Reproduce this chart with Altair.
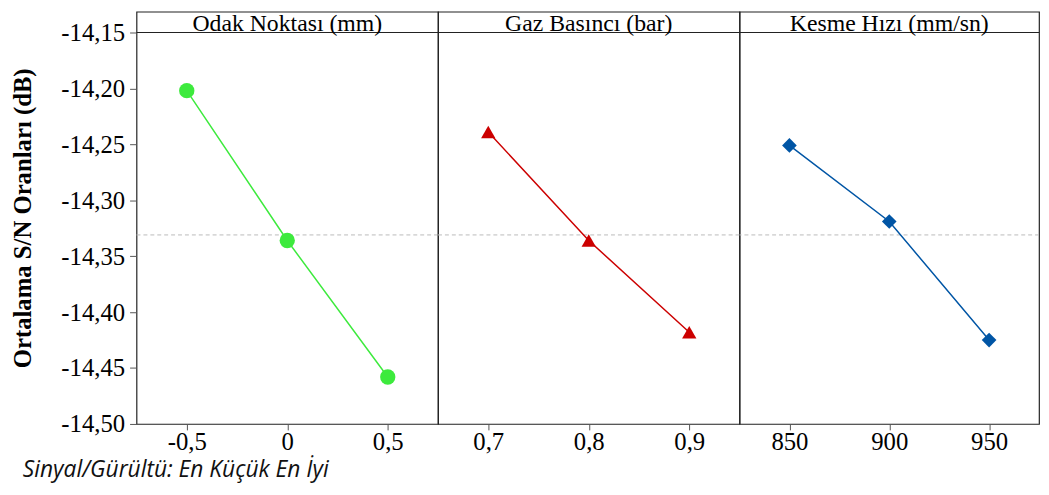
import altair as alt
import pandas as pd

# ---- data ----
odak_x = [-0.5, 0.0, 0.5]
odak_y = [-14.202, -14.336, -14.458]
gaz_x = [0.7, 0.8, 0.9]
gaz_y = [-14.239, -14.336, -14.418]
kesme_x = [850, 900, 950]
kesme_y = [-14.251, -14.319, -14.425]
mean_sn = [-14.331]
headers = ["Odak Noktası (mm)", "Gaz Basıncı  (bar)", "Kesme Hızı (mm/sn)"]
y_ticks = [-14.50, -14.45, -14.40, -14.35, -14.30, -14.25, -14.20, -14.15]
header_line = [-14.15]
footnote = ["Sinyal/Gürültü: En Küçük En İyi"]
y_title = "Ortalama S/N Oranları (dB)"

H = 417
HDR = 21
Y_DOMAIN = [-14.50, -14.15 + HDR * 0.35 / (H - HDR)]
SERIF = "Liberation Serif"


def panel(xs, ys, xdom, xticks, header, color, shape, size, width, first):
    df = pd.DataFrame({"x": xs, "y": ys})
    yscale = alt.Scale(domain=Y_DOMAIN, nice=False, zero=False)
    xscale = alt.Scale(domain=xdom, nice=False, zero=False)
    if first:
        yaxis = alt.Axis(
            values=y_ticks,
            labelExpr="'-' + replace(format(abs(datum.value), '.2f'), '.', ',')",
            title=y_title,
            titleFont=SERIF,
            titleFontSize=25,
            titleFontWeight="bold",
            titleColor="black",
            titlePadding=26,
            labelFont=SERIF,
            labelFontSize=25,
            labelColor="black",
            labelPadding=5,
            tickSize=7,
            tickColor="#555555",
            domain=False,
            grid=False,
        )
    else:
        yaxis = None
    xaxis = alt.Axis(
        values=xticks,
        labelExpr="replace(toString(datum.value), '.', ',')",
        labelFont=SERIF,
        labelFontSize=25,
        labelColor="black",
        labelPadding=0,
        tickSize=6,
        tickColor="#555555",
        domain=False,
        grid=False,
    )
    X = alt.X("x:Q", scale=xscale, axis=xaxis, title=None)

    def Y(field):
        return alt.Y(field, scale=yscale, axis=yaxis, title=y_title if first else None)

    base = alt.Chart(df)
    line = base.mark_line(color=color, strokeWidth=1.5).encode(x=X, y=Y("y:Q"))
    pts = base.mark_point(shape=shape, filled=True, size=size, color=color,
                          opacity=1).encode(x=X, y=Y("y:Q"))
    mean_rule = alt.Chart(pd.DataFrame({"m": mean_sn})).mark_rule(
        color="#bbbbbb", strokeDash=[4, 3], strokeWidth=1
    ).encode(y=Y("m:Q"))
    hdr_rule = alt.Chart(pd.DataFrame({"h": header_line})).mark_rule(
        color="#222222", strokeWidth=1.2
    ).encode(y=Y("h:Q"))
    hdr_text = alt.Chart(pd.DataFrame({"t": [header]})).mark_text(
        font=SERIF, fontSize=24, align="center", baseline="alphabetic", color="black"
    ).encode(text="t:N", x=alt.value(width / 2), y=alt.value(HDR - 2))
    layers = [mean_rule, hdr_rule, line, pts, hdr_text]
    if first:
        foot = alt.Chart(pd.DataFrame({"f": footnote})).mark_text(
            font="Open Sans", fontStyle="italic", fontSize=23, align="left",
            baseline="middle", color="#111111"
        ).encode(text="f:N", x=alt.value(22 - 137), y=alt.value(464))
        layers.append(foot)
    return alt.layer(*layers).properties(width=width, height=H)


p1 = panel(odak_x, odak_y, [-0.75, 0.75], [-0.5, 0, 0.5], headers[0],
           "#3dea3d", "circle", 240, 305, True)
p2 = panel(gaz_x, gaz_y, [0.65, 0.95], [0.7, 0.8, 0.9], headers[1],
           "#cc0000", "triangle-up", 210, 305, False)
p3 = panel(kesme_x, kesme_y, [825, 975], [850, 900, 950], headers[2],
           "#0055a5", "diamond", 220, 303, False)

PAD = {"left": 1, "top": 0, "right": 0, "bottom": 0}
chart = (
    alt.hconcat(p1, p2, p3, spacing=0, bounds="flush")
    .resolve_scale(x="independent")
    .properties(padding=PAD)
    .configure_view(stroke="#222222", strokeWidth=1.2)
    .configure_axis(labelFont=SERIF, titleFont=SERIF, labelColor="black")
)

chart.save("out.html", embed_options={"renderer": "svg", "actions": False})
